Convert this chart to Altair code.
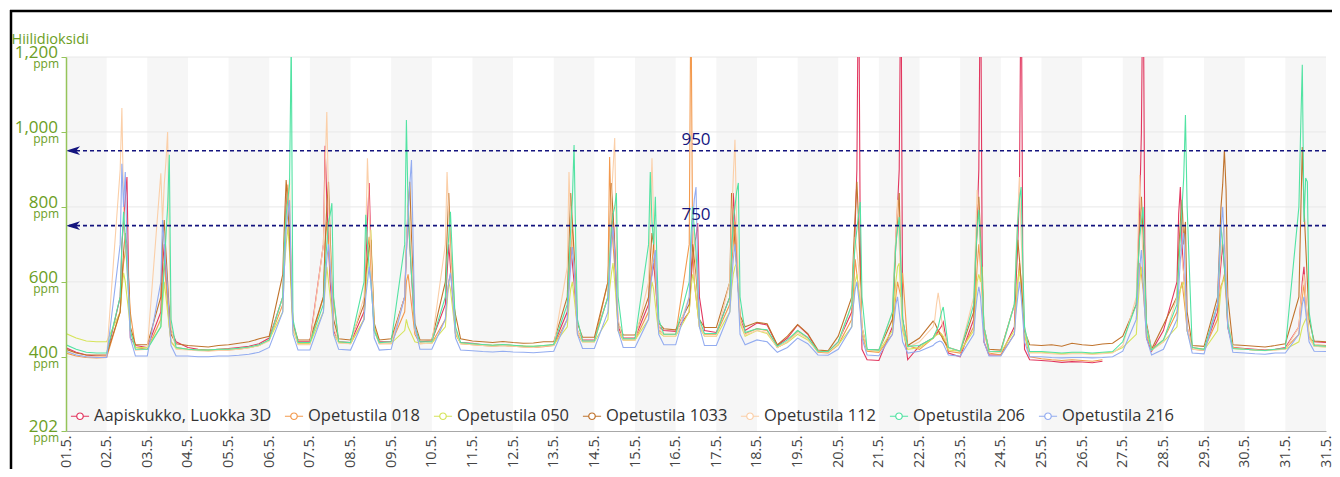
import altair as alt
import pandas as pd

SERIES = ["Aapiskukko, Luokka 3D", "Opetustila 018", "Opetustila 050", "Opetustila 1033",
          "Opetustila 112", "Opetustila 206", "Opetustila 216"]
COLORS = ["#e2375f", "#f39a4e", "#d6e45a", "#c0732c", "#fbcfa8", "#52e3a3", "#93acf0"]

# sampling grid: school days get hours below, other days a coarser grid
SCHOOL_DAYS = [2, 3, 6, 7, 8, 9, 10, 13, 14, 15, 16, 17, 20, 21, 22, 23, 24, 27, 28, 29, 31]
SCHOOL_HOURS = [0, 8, 9, 10, 11, 12, 13, 14, 17]
OTHER_HOURS = [0, 6, 12, 18]

AAPIS = [
    424, 412, 405, 402,
    402, 560, 700, 760, 820, 880, 600, 450, 430,
    425, 520, 640, 700, 620, 560, 520, 472, 440,
    425, 420, 418, 420,
    422, 425, 428, 435,
    450, 560, 700, 800, 850, 780, 620, 480, 440,
    440, 700, 963, 820, 700, 600, 540, 470, 440,
    438, 520, 640, 760, 864, 700, 560, 470, 440,
    440, 560, 680, 780, 700, 620, 540, 470, 440,
    442, 540, 620, 700, 640, 580, 520, 460, 438,
    436, 432, 430, 432,
    430, 428, 426, 428,
    432, 520, 600, 693, 650, 600, 540, 470, 445,
    445, 560, 660, 720, 784, 700, 600, 480, 450,
    450, 540, 600, 620, 650, 600, 540, 480, 470,
    468, 520, 600, 660, 700, 720, 757, 560, 470,
    465, 560, 700, 837, 760, 680, 600, 500, 470,
    490, 485, 430, 450,
    485, 460, 415, 412,
    440, 520, 600, 750, 900, 1500, 700, 420, 392,
    390, 480, 600, 720, 800, 900, 1500, 500, 392,
    430, 450, 455, 460, 468, 475, 482, 493, 410,
    400, 500, 650, 760, 900, 1500, 650, 440, 405,
    405, 480, 600, 700, 850, 1500, 600, 420, 392,
    390, 388, 385, 387,
    386, 384, 388, None,
    None, 540, 680, 800, 1000, 1500, 700, 450, 415,
    470, 600, 780, 853, 700, 620, 560, 480, 420,
    418, 520, 600, 650, 700, 640, 580, 480, 425,
    422, 420, 418, 420,
    425, 480, 540, 600, 640, 560, 500, 450, 440,
    438,
]
OP018 = [
    410, 402, 398, 397,
    398, 520, 600, 650, 680, 700, 600, 517, 425,
    420, 500, 600, 650, 600, 540, 480, 440, 425,
    420, 418, 416, 418,
    418, 420, 424, 430,
    445, 540, 680, 780, 860, 760, 600, 480, 435,
    435, 560, 700, 760, 700, 620, 580, 552, 440,
    435, 500, 600, 680, 720, 640, 560, 470, 435,
    435, 520, 600, 620, 580, 540, 500, 460, 435,
    437, 500, 560, 600, 620, 650, 560, 470, 435,
    432, 430, 428, 430,
    428, 426, 425, 427,
    430, 500, 600, 680, 740, 640, 540, 460, 440,
    440, 600, 933, 760, 700, 640, 560, 470, 445,
    445, 520, 600, 650, 700, 620, 540, 470, 460,
    460, 700, 1400, 700, 600, 560, 520, 480, 460,
    460, 540, 640, 700, 760, 680, 580, 490, 462,
    475, 470, 425, 440,
    470, 450, 412, 410,
    432, 500, 580, 660, 620, 580, 540, 460, 415,
    412, 460, 520, 560, 600, 580, 560, 624, 430,
    420, 450, 460, 465, 470, 465, 460, 450, 415,
    410, 480, 560, 640, 700, 640, 560, 470, 410,
    405, 460, 540, 600, 650, 600, 540, 460, 400,
    395, 392, 390, 392,
    390, 388, 392, None,
    None, 500, 580, 650, 620, 580, 520, 460, 420,
    445, 520, 560, 580, 600, 560, 520, 470, 425,
    420, 500, 560, 590, 600, 620, 560, 480, 425,
    420, 418, 417, 419,
    422, 460, 520, 560, 592, 540, 500, 450, 432,
    430,
]
OP050 = [
    462, 450, 442, 440,
    440, 520, 580, 624, 600, 560, 520, 470, 425,
    425, 480, 540, 600, 560, 520, 480, 440, 422,
    420, 418, 418, 420,
    420, 422, 425, 430,
    445, 520, 640, 700, 747, 680, 560, 470, 435,
    435, 520, 580, 640, 600, 560, 520, 460, 438,
    435, 500, 580, 640, 680, 739, 600, 480, 436,
    436, 470, 500, 480, 470, 460, 450, 440, 436,
    436, 480, 540, 600, 580, 540, 500, 460, 436,
    434, 432, 431, 433,
    430, 429, 428, 430,
    432, 480, 540, 580, 600, 560, 520, 470, 440,
    440, 500, 580, 620, 650, 600, 540, 470, 445,
    445, 500, 560, 600, 580, 540, 500, 465, 455,
    455, 520, 580, 620, 600, 560, 520, 480, 455,
    455, 520, 580, 620, 640, 650, 580, 490, 455,
    470, 462, 425, 438,
    460, 445, 415, 413,
    432, 480, 540, 600, 620, 580, 540, 470, 418,
    415, 470, 540, 600, 640, 650, 560, 470, 420,
    425, 450, 455, 458, 460, 462, 460, 455, 418,
    415, 470, 540, 600, 620, 600, 640, 480, 415,
    412, 470, 540, 600, 630, 580, 520, 460, 412,
    412, 410, 408, 410,
    410, 408, 410, 412,
    425, 460, 540, 600, 640, 600, 540, 470, 418,
    440, 480, 540, 580, 590, 600, 540, 470, 420,
    418, 470, 530, 580, 600, 610, 620, 490, 422,
    420, 418, 417, 419,
    420, 440, 460, 480, 490, 500, 507, 460, 428,
    426,
]
OP1033 = [
    420, 410, 405, 405,
    405, 520, 600, 680, 730, 700, 600, 480, 432,
    432, 560, 700, 765, 680, 600, 520, 460, 435,
    430, 428, 426, 430,
    432, 436, 440, 448,
    455, 620, 760, 872, 800, 720, 600, 490, 445,
    445, 560, 700, 800, 867, 720, 600, 500, 448,
    445, 540, 620, 660, 690, 712, 600, 490, 445,
    448, 560, 700, 800, 867, 720, 600, 490, 445,
    445, 600, 720, 837, 700, 600, 540, 512, 448,
    442, 440, 438, 441,
    438, 436, 437, 440,
    440, 560, 700, 837, 760, 680, 580, 490, 452,
    452, 600, 720, 864, 780, 680, 580, 490, 458,
    458, 560, 660, 730, 700, 640, 560, 490, 475,
    472, 540, 620, 700, 660, 620, 560, 500, 478,
    478, 600, 837, 760, 700, 640, 580, 510, 480,
    492, 488, 432, 455,
    486, 462, 418, 416,
    455, 560, 680, 780, 867, 760, 620, 480, 420,
    418, 500, 600, 700, 760, 837, 620, 500, 430,
    450, 495, 490, 480, 470, 460, 455, 445, 425,
    415, 520, 640, 740, 827, 720, 600, 480, 420,
    418, 540, 640, 712, 660, 600, 540, 470, 432,
    430, 432, 428, 436,
    432, 430, 434, 436,
    455, 540, 640, 740, 827, 720, 600, 490, 420,
    485, 560, 680, 760, 819, 700, 760, 520, 430,
    428, 560, 680, 800, 860, 952, 845, 560, 432,
    430, 428, 426, 430,
    435, 560, 760, 960, 800, 700, 600, 500, 442,
    440,
]
OP112 = [
    415, 405, 400, 400,
    402, 900, 1064, 800, 700, 640, 560, 470, 418,
    420, 890, 760, 860, 920, 1000, 700, 480, 420,
    418, 416, 415, 417,
    418, 420, 424, 430,
    442, 560, 700, 760, 820, 876, 640, 480, 432,
    432, 700, 900, 1053, 820, 680, 580, 480, 436,
    435, 560, 720, 930, 800, 680, 580, 470, 435,
    436, 560, 700, 800, 760, 660, 560, 470, 435,
    436, 700, 893, 780, 680, 600, 540, 470, 435,
    432, 430, 428, 430,
    428, 426, 425, 428,
    430, 640, 893, 760, 700, 640, 560, 470, 440,
    440, 560, 700, 820, 900, 984, 700, 500, 445,
    445, 600, 760, 930, 760, 640, 560, 480, 455,
    455, 560, 680, 760, 700, 640, 580, 490, 455,
    455, 600, 760, 880, 979, 760, 620, 500, 458,
    470, 465, 425, 440,
    465, 448, 414, 412,
    435, 540, 640, 720, 680, 640, 580, 480, 418,
    416, 520, 640, 720, 819, 700, 600, 490, 425,
    440, 480, 500, 540, 571, 540, 500, 470, 425,
    415, 560, 700, 845, 760, 660, 580, 480, 415,
    412, 540, 680, 780, 880, 720, 600, 480, 410,
    410, 408, 406, 408,
    408, 406, 408, 410,
    430, 560, 720, 885, 760, 660, 580, 480, 418,
    440, 560, 640, 700, 660, 620, 560, 480, 420,
    418, 540, 620, 680, 720, 750, 640, 500, 422,
    420, 418, 416, 418,
    420, 480, 540, 580, 620, 560, 500, 450, 428,
    426,
]
OP206 = [
    432, 420, 412, 410,
    410, 560, 700, 787, 720, 640, 560, 470, 420,
    420, 480, 560, 640, 720, 800, 939, 500, 425,
    420, 418, 418, 420,
    420, 423, 426, 432,
    445, 560, 700, 780, 820, 860, 1250, 500, 438,
    438, 540, 640, 700, 760, 780, 810, 560, 440,
    438, 600, 779, 700, 640, 600, 540, 470, 438,
    440, 700, 1032, 800, 700, 620, 560, 480, 440,
    440, 560, 660, 720, 787, 680, 580, 480, 438,
    435, 433, 431, 433,
    431, 429, 428, 430,
    433, 540, 640, 740, 820, 965, 700, 500, 442,
    442, 560, 660, 740, 780, 800, 837, 560, 448,
    448, 700, 893, 760, 700, 827, 640, 500, 460,
    460, 600, 720, 800, 740, 680, 600, 500, 462,
    462, 560, 680, 760, 800, 840, 864, 560, 465,
    475, 472, 428, 445,
    470, 452, 415, 414,
    440, 540, 640, 700, 740, 780, 813, 560, 420,
    418, 520, 620, 700, 740, 773, 640, 500, 428,
    430, 450, 460, 470, 480, 500, 520, 533, 425,
    415, 540, 660, 740, 792, 700, 600, 480, 415,
    414, 540, 660, 760, 820, 853, 640, 480, 414,
    414, 412, 410, 412,
    412, 410, 412, 414,
    440, 540, 640, 720, 760, 800, 620, 480, 418,
    445, 540, 640, 720, 800, 880, 1045, 800, 425,
    420, 540, 640, 747, 700, 640, 580, 490, 422,
    420, 418, 417, 420,
    422, 800, 1000, 1179, 760, 877, 867, 520, 430,
    428,
]
OP216 = [
    415, 405, 400, 398,
    398, 700, 915, 800, 893, 700, 560, 450, 402,
    402, 600, 765, 700, 640, 580, 500, 430, 402,
    402, 400, 400, 402,
    402, 404, 407, 412,
    425, 520, 640, 740, 780, 818, 620, 460, 418,
    418, 520, 600, 660, 700, 640, 560, 460, 420,
    418, 500, 560, 600, 640, 600, 540, 450, 418,
    420, 560, 680, 780, 860, 925, 700, 480, 420,
    420, 500, 560, 600, 624, 580, 520, 450, 418,
    416, 414, 413, 415,
    413, 412, 411, 413,
    415, 500, 580, 640, 693, 640, 560, 460, 422,
    422, 520, 620, 700, 747, 680, 580, 470, 425,
    425, 500, 580, 620, 660, 685, 560, 460, 432,
    432, 560, 680, 760, 820, 853, 640, 480, 430,
    430, 520, 600, 660, 700, 640, 560, 460, 432,
    445, 440, 412, 425,
    450, 435, 405, 404,
    420, 480, 540, 580, 600, 560, 520, 450, 405,
    403, 460, 500, 540, 560, 520, 480, 440, 410,
    415, 430, 435, 438, 440, 442, 440, 435, 405,
    402, 460, 520, 560, 587, 560, 500, 440, 402,
    402, 460, 520, 560, 600, 560, 500, 440, 400,
    400, 398, 397, 398,
    398, 397, 398, 400,
    415, 500, 580, 640, 685, 600, 520, 450, 405,
    420, 500, 580, 660, 700, 731, 600, 470, 410,
    408, 540, 660, 740, 800, 700, 600, 480, 412,
    410, 408, 407, 410,
    410, 460, 500, 540, 560, 520, 480, 440, 415,
    414,
]
VALUES = [AAPIS, OP018, OP050, OP1033, OP112, OP206, OP216]

X_LABELS = ["01.5.", "02.5.", "03.5.", "04.5.", "05.5.", "06.5.", "07.5.", "08.5.", "09.5.", "10.5.",
            "11.5.", "12.5.", "13.5.", "14.5.", "15.5.", "16.5.", "17.5.", "18.5.", "19.5.", "20.5.",
            "21.5.", "22.5.", "23.5.", "24.5.", "25.5.", "26.5.", "27.5.", "28.5.", "29.5.", "30.5.",
            "31.5.", "31.5."]
Y_TICKS = [202, 400, 600, 800, 1000, 1200]
Y_TICK_LABELS = ["202", "400", "600", "800", "1,000", "1,200"]
Y_GRID = [400, 600, 800, 1000, 1200]
UNIT = "ppm"
THRESHOLDS = [950, 750]
THRESHOLD_LABELS = ["950", "750"]
BAND_DAYS = [1, 3, 5, 7, 9, 11, 13, 15, 17, 19, 21, 23, 25, 27, 29, 31]

PLOT_W, PLOT_H = 1260, 374
GREEN = "#6c9e25"
GREEN_LINE = "#95c45a"
NAVY = "#14147e"
FONT = "Open Sans"

# time axis (days since 1 May 00:00)
TIMES = []
for day in range(1, 32):
    hours = SCHOOL_HOURS if day in SCHOOL_DAYS else OTHER_HOURS
    for h in hours:
        TIMES.append((day - 1) + h / 24)
TIMES.append(31.0)

rows = []
for name, vals in zip(SERIES, VALUES):
    seg = 0
    for t, v in zip(TIMES, vals):
        if v is None:
            seg += 1
            continue
        rows.append({"t": t, "v": v, "s": name, "seg": f"{name}#{seg}"})
df = pd.DataFrame(rows)

band_df = pd.DataFrame({"x0": [d - 1 for d in BAND_DAYS], "x1": BAND_DAYS})
grid_df = pd.DataFrame({"v": Y_GRID})
ytick_df = pd.DataFrame({"v": Y_TICKS, "lab": Y_TICK_LABELS})
thr_df = pd.DataFrame({"v": THRESHOLDS, "lab": THRESHOLD_LABELS})
one = pd.DataFrame({"a": [0]})

xscale = alt.Scale(domain=[0, 31], nice=False, zero=False)
yscale = alt.Scale(domain=[202, 1200], nice=False, zero=False)

label_expr = "[" + ",".join('"%s"' % s for s in X_LABELS) + "][datum.value]"
xaxis = alt.Axis(values=list(range(32)), labelExpr=label_expr, labelAngle=270,
                 labelFontSize=14.5, labelColor="#444444", labelFont=FONT,
                 domainColor="#a8a8a8", domainWidth=1, ticks=False, grid=False,
                 labelPadding=4, title=None, labelOverlap=False, zindex=1)
yaxis = alt.Axis(values=Y_TICKS, labels=False, ticks=True, tickSize=5, tickColor=GREEN_LINE,
                 domainColor=GREEN_LINE, domainWidth=1.5, grid=False,
                 title="Hiilidioksidi", titleAngle=0, titleAlign="left",
                 titleBaseline="alphabetic", titleX=-55, titleY=-14, titleColor=GREEN,
                 titleFontSize=14.5, titleFontWeight="normal", titleFont=FONT, zindex=1)

LEGEND_PATH = ("M-1,0L-0.36,0M0.36,0L1,0M0.36,0A0.36,0.36,0,1,1,-0.36,0"
               "A0.36,0.36,0,1,1,0.36,0")
legend = alt.Legend(orient="none", legendX=4, legendY=349, direction="horizontal",
                    columns=7, title=None, symbolType=LEGEND_PATH, symbolSize=330,
                    symbolStrokeWidth=1.2, symbolFillColor="white", labelFontSize=16.5,
                    labelColor="#333333", labelFont=FONT, labelLimit=400,
                    columnPadding=10, labelOffset=4, padding=0)

bands = alt.Chart(band_df).mark_rect(color="#f6f6f6").encode(
    x=alt.X("x0:Q", scale=xscale, axis=xaxis), x2="x1:Q",
    y=alt.value(0), y2=alt.value(PLOT_H))

grid = alt.Chart(grid_df).mark_rule(color="#e8e8e8", strokeWidth=1).encode(
    y=alt.Y("v:Q", scale=yscale, axis=yaxis))

lines = alt.Chart(df).mark_line(strokeWidth=1.1, clip=True).encode(
    x=alt.X("t:Q", scale=xscale, axis=xaxis),
    y=alt.Y("v:Q", scale=yscale, axis=yaxis),
    color=alt.Color("s:N", scale=alt.Scale(domain=SERIES, range=COLORS), legend=legend),
    detail="seg:N")

thr = alt.Chart(thr_df).mark_rule(color=NAVY, strokeWidth=1.6, strokeDash=[4, 3]).encode(
    y=alt.Y("v:Q", scale=yscale, axis=yaxis))

ARROW = "M-1,0L1,-0.62L0.45,0L1,0.62Z"
arrows = alt.Chart(thr_df).mark_point(shape=ARROW, filled=True, color=NAVY, opacity=1,
                                      size=200, xOffset=7).encode(
    x=alt.X(datum=0, scale=xscale, axis=xaxis),
    y=alt.Y("v:Q", scale=yscale, axis=yaxis))

thr_text = alt.Chart(thr_df).mark_text(color=NAVY, fontSize=17, font=FONT, dy=-6,
                                       baseline="alphabetic").encode(
    x=alt.X(datum=15.5, scale=xscale, axis=xaxis),
    y=alt.Y("v:Q", scale=yscale, axis=yaxis), text="lab:N")

ynum = alt.Chart(ytick_df).mark_text(align="right", baseline="alphabetic", dx=-8, dy=1,
                                     fontSize=17, font=FONT, color=GREEN).encode(
    x=alt.X(datum=0, scale=xscale, axis=xaxis),
    y=alt.Y("v:Q", scale=yscale, axis=yaxis), text="lab:N")

yunit = alt.Chart(ytick_df).mark_text(align="right", baseline="alphabetic", dx=-7, dy=11,
                                      fontSize=12, font=FONT, color=GREEN, text=UNIT).encode(
    x=alt.X(datum=0, scale=xscale, axis=xaxis),
    y=alt.Y("v:Q", scale=yscale, axis=yaxis))

frame_top = alt.Chart(one).mark_rule(color="black", strokeWidth=2.5).encode(
    x=alt.value(-56), x2=alt.value(PLOT_W + 8), y=alt.value(-46))
frame_left = alt.Chart(one).mark_rule(color="black", strokeWidth=2.5).encode(
    x=alt.value(-55), y=alt.value(-47), y2=alt.value(PLOT_H + 60))

chart = alt.layer(
    bands, grid, lines, thr, arrows, thr_text, ynum, yunit, frame_top, frame_left
).properties(
    width=PLOT_W, height=PLOT_H,
    padding={"left": 58, "top": 49, "right": 6, "bottom": 38},
    autosize=alt.AutoSizeParams(type="none"),
).configure(font=FONT).configure_view(stroke=None)

chart.save("out.html", embed_options={"renderer": "svg", "actions": False})
